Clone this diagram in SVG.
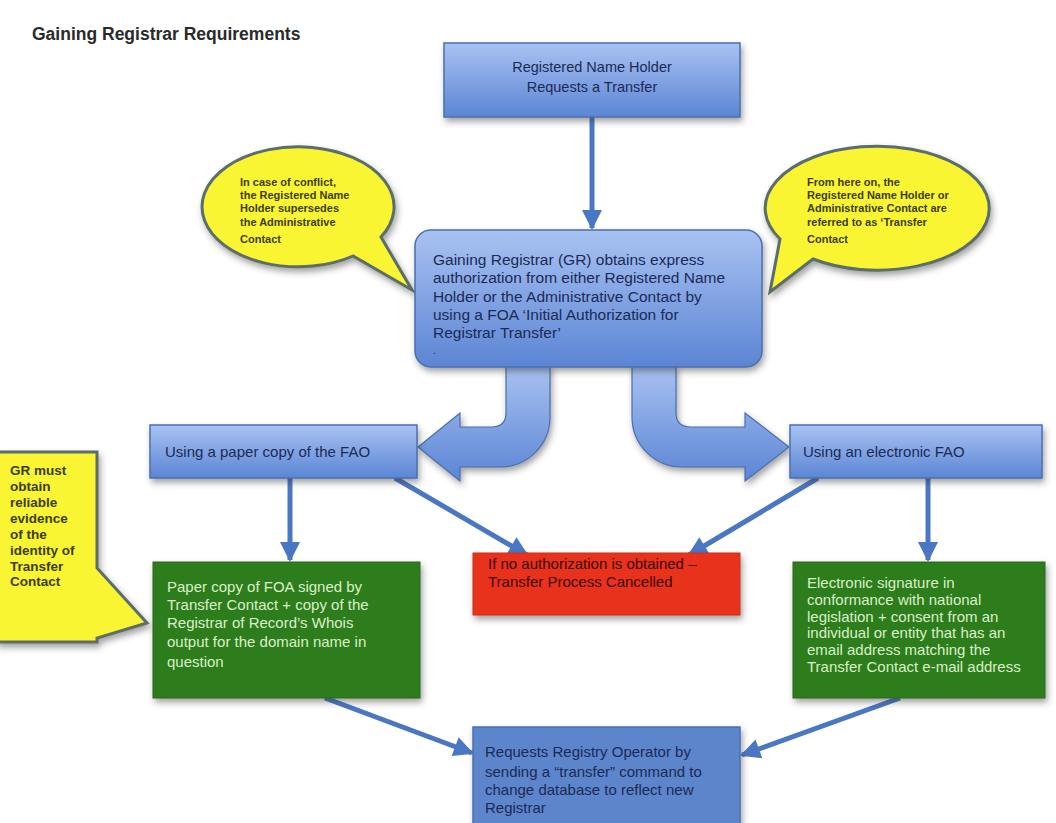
<svg xmlns="http://www.w3.org/2000/svg" width="1056" height="823" viewBox="0 0 1056 823">
<defs>
<style>
text{font-family:"Liberation Sans",Arial,sans-serif}
.bt{fill:#1c2a55;font-size:15px}
.gt{fill:#d9f0c8;font-size:15px}
.yt{fill:#3d3d0a;font-size:11px;font-weight:bold}
.yb{fill:#3d3d0a;font-size:13.5px;font-weight:bold}
.conn{stroke:#4a77c4;stroke-width:5;fill:none}
.box{stroke:#4a6fb0;stroke-width:1.5}
.call{fill:#f9f533;stroke:#5b6d6a;stroke-width:3}
</style>
<linearGradient id="gb" x1="0" y1="0" x2="0" y2="1">
<stop offset="0" stop-color="#a9c2f2"/><stop offset="1" stop-color="#5b85d4"/>
</linearGradient>
<filter id="sh" x="-10%" y="-10%" width="130%" height="140%">
<feDropShadow dx="2" dy="4" stdDeviation="3" flood-color="#333" flood-opacity="0.45"/>
</filter>
<marker id="ah" viewBox="0 0 10 10" refX="9" refY="5" markerWidth="22" markerHeight="20" markerUnits="userSpaceOnUse" orient="auto">
<path d="M0,0 L10,5 L0,10 z" fill="#4a77c4"/>
</marker>
</defs>
<rect width="1056" height="823" fill="#ffffff"/>
<text x="32" y="40" style="font-size:17.5px;font-weight:bold;fill:#2a2a2a">Gaining Registrar Requirements</text>

<g id="connectors">
<line class="conn" x1="592" y1="117" x2="592" y2="228" marker-end="url(#ah)"/>
<line class="conn" x1="290" y1="478" x2="290" y2="560" marker-end="url(#ah)"/>
<line class="conn" x1="928" y1="478" x2="928" y2="560" marker-end="url(#ah)"/>
<line class="conn" x1="395" y1="478" x2="527" y2="555" marker-end="url(#ah)"/>
<line class="conn" x1="818" y1="478" x2="689" y2="555" marker-end="url(#ah)"/>
<line class="conn" x1="325" y1="698" x2="472" y2="753" marker-end="url(#ah)"/>
<line class="conn" x1="900" y1="698" x2="742" y2="755" marker-end="url(#ah)"/>
<path id="curve-left" d="M506,365 L506,413 Q506,427 491,427 L460,427 L460,413 L418,447 L460,481 L460,467 L500,467 A50,50 0 0 0 550,417 L550,365 Z" fill="url(#gb)" stroke="#4a6fb0" stroke-width="1.2" filter="url(#sh)"/>
<path id="curve-right" d="M676,365 L676,413 Q676,427 691,427 L745,427 L745,413 L789,447 L745,481 L745,467 L682,467 A50,50 0 0 1 632,417 L632,365 Z" fill="url(#gb)" stroke="#4a6fb0" stroke-width="1.2" filter="url(#sh)"/>
</g>

<g id="n-top">
<rect class="box" x="444" y="43" width="296" height="74" fill="url(#gb)" filter="url(#sh)"/>
<text class="bt" x="592" y="72" text-anchor="middle" style="font-size:14.5px">Registered Name Holder</text>
<text class="bt" x="592" y="92" text-anchor="middle" style="font-size:14.5px">Requests a Transfer</text>
</g>

<g id="n-callout-left">
<path class="call" d="M381,237 A96,60 0 1 0 353,256 L412,290 Z" filter="url(#sh)"/>
<text class="yt" x="240" y="186">In case of conflict,</text>
<text class="yt" x="240" y="199">the Registered Name</text>
<text class="yt" x="240" y="212">Holder supersedes</text>
<text class="yt" x="240" y="226">the Administrative</text>
<text class="yt" x="240" y="243">Contact</text>
</g>

<g id="n-callout-right">
<path class="call" d="M780,239 A112,62 0 1 1 813,259 L770,292 Z" filter="url(#sh)"/>
<text class="yt" x="807" y="186">From here on, the</text>
<text class="yt" x="807" y="199">Registered Name Holder or</text>
<text class="yt" x="807" y="212">Administrative Contact are</text>
<text class="yt" x="807" y="226">referred to as ‘Transfer</text>
<text class="yt" x="807" y="243">Contact</text>
</g>

<g id="n-gr">
<rect class="box" x="415" y="230" width="347" height="137" rx="16" fill="url(#gb)" filter="url(#sh)"/>
<text class="bt" x="433" y="265" style="font-size:15.5px">Gaining Registrar (GR) obtains express</text>
<text class="bt" x="433" y="283" style="font-size:15.5px">authorization from either Registered Name</text>
<text class="bt" x="433" y="302" style="font-size:15.5px">Holder or the Administrative Contact by</text>
<text class="bt" x="433" y="320" style="font-size:15.5px">using a FOA ‘Initial Authorization for</text>
<text class="bt" x="433" y="338" style="font-size:15.5px">Registrar Transfer’</text>
<text class="bt" x="433" y="354" style="font-size:10px">.</text>
</g>

<g id="n-paper">
<rect class="box" x="150" y="425" width="267" height="53" fill="url(#gb)" filter="url(#sh)"/>
<text class="bt" x="165" y="457">Using a paper copy of the FAO</text>
</g>

<g id="n-electronic">
<rect class="box" x="790" y="425" width="252" height="53" fill="url(#gb)" filter="url(#sh)"/>
<text class="bt" x="803" y="457">Using an electronic FAO</text>
</g>

<g id="n-callout-gr">
<path class="call" d="M-3,452 L97,452 L97,568 L147,623 L97,638 L97,642 L-3,642 Z" filter="url(#sh)"/>
<text class="yb" x="10" y="475">GR must</text>
<text class="yb" x="10" y="491">obtain</text>
<text class="yb" x="10" y="507">reliable</text>
<text class="yb" x="10" y="523">evidence</text>
<text class="yb" x="10" y="539">of the</text>
<text class="yb" x="10" y="555">identity of</text>
<text class="yb" x="10" y="571">Transfer</text>
<text class="yb" x="10" y="586">Contact</text>
</g>

<g id="n-cancel">
<rect x="473" y="553" width="267" height="62" fill="#e8321c" stroke="#c83020" stroke-width="1" filter="url(#sh)"/>
<text x="488" y="569" style="font-size:15px;fill:#3a0a05">If no authorization is obtained –</text>
<text x="488" y="587" style="font-size:15px;fill:#3a0a05">Transfer Process Cancelled</text>
</g>

<g id="n-green-left">
<rect x="153" y="562" width="267" height="136" fill="#2f7d1f" stroke="#2a6a1c" stroke-width="1" filter="url(#sh)"/>
<text class="gt" x="167" y="592">Paper copy of FOA signed by</text>
<text class="gt" x="167" y="610">Transfer Contact + copy of the</text>
<text class="gt" x="167" y="628">Registrar of Record’s Whois</text>
<text class="gt" x="167" y="647">output for the domain name in</text>
<text class="gt" x="167" y="667">question</text>
</g>

<g id="n-green-right">
<rect x="793" y="562" width="252" height="136" fill="#2f7d1f" stroke="#2a6a1c" stroke-width="1" filter="url(#sh)"/>
<text class="gt" x="807" y="588">Electronic signature in</text>
<text class="gt" x="807" y="605">conformance with national</text>
<text class="gt" x="807" y="622">legislation + consent from an</text>
<text class="gt" x="807" y="638">individual or entity that has an</text>
<text class="gt" x="807" y="655">email address matching the</text>
<text class="gt" x="807" y="672">Transfer Contact e-mail address</text>
</g>

<g id="n-bottom">
<rect class="box" x="473" y="727" width="267" height="110" fill="#5b85cc" filter="url(#sh)"/>
<text class="bt" x="485" y="757">Requests Registry Operator by</text>
<text class="bt" x="485" y="777">sending a “transfer” command to</text>
<text class="bt" x="485" y="795">change database to reflect new</text>
<text class="bt" x="485" y="813">Registrar</text>
</g>
</svg>
